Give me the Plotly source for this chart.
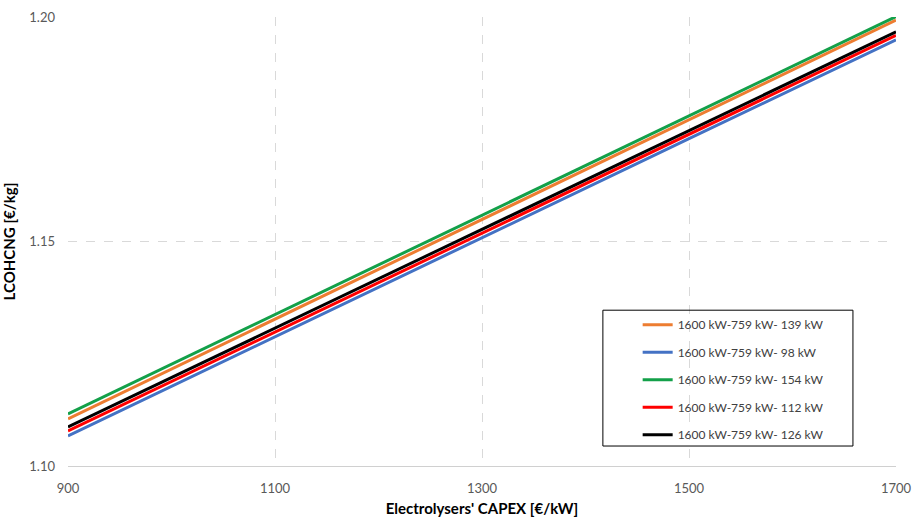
import plotly.graph_objects as go

capex = [900, 1100, 1300, 1500, 1700]
names = ["1600 kW-759 kW- 139 kW", "1600 kW-759 kW- 98 kW", "1600 kW-759 kW- 154 kW",
         "1600 kW-759 kW- 112 kW", "1600 kW-759 kW- 126 kW"]
orange_139 = [1.1105, 1.1327, 1.1549, 1.1771, 1.1993]
blue_98 = [1.1067, 1.1288, 1.1508, 1.1729, 1.1949]
green_154 = [1.1116, 1.1337, 1.1558, 1.1780, 1.2001]
red_112 = [1.1078, 1.1298, 1.1519, 1.1739, 1.1959]
black_126 = [1.1087, 1.1307, 1.1527, 1.1747, 1.1967]
colors = ["#ED7D31", "#4472C4", "#13A049", "#FF0000", "#000000"]
series = [orange_139, blue_98, green_154, red_112, black_126]

x_ticks = [900, 1100, 1300, 1500, 1700]
y_ticks = [1.10, 1.15, 1.20]

fig = go.Figure()
for i, (n, s, c) in enumerate(zip(names, series, colors)):
    fig.add_trace(go.Scatter(x=capex, y=s, mode="lines", name=n, legendgroup=str(i),
                             line=dict(color=c, width=3)))

fig.update_layout(
    width=916, height=519,
    margin=dict(l=68, r=20, t=17, b=53),
    paper_bgcolor="white", plot_bgcolor="white",
    font=dict(family="Lato, Open Sans, sans-serif", color="#595959", size=13),
    showlegend=True,
    legend=dict(x=0.688, y=0.347, xanchor="left", yanchor="top",
                bgcolor="rgba(0,0,0,0)", borderwidth=0,
                font=dict(size=12, color="#404040"),
                tracegroupgap=8.5, itemwidth=30),
    shapes=[dict(type="rect", xref="paper", yref="paper",
                 x0=0.646, x1=0.948, y0=0.0445, y1=0.347,
                 line=dict(color="#000000", width=1), fillcolor="rgba(0,0,0,0)")],
)
fig.update_xaxes(
    range=[900, 1700], tickvals=x_ticks, ticktext=[str(v) for v in x_ticks],
    showgrid=True, gridcolor="#D9D9D9", griddash="dash", gridwidth=1,
    showline=True, linecolor="#D0D0D0", linewidth=1, ticks="", ticklabelstandoff=10,
    zeroline=False, automargin=False,
    title=dict(text="Electrolysers' CAPEX [€/kW]", font=dict(size=15, color="#000000", weight="bold"),
               standoff=8),
)
fig.update_yaxes(
    range=[1.10, 1.20], tickvals=y_ticks, ticktext=[f"{v:.2f}" for v in y_ticks],
    showgrid=True, gridcolor="#D9D9D9", griddash="dash", gridwidth=1,
    showline=False, ticks="", ticklabelstandoff=12, zeroline=False, automargin=False,
    title=dict(text="LCOHCNG [€/kg]", font=dict(size=15, color="#000000", weight="bold"),
               standoff=10),
)

fig.write_html("out.html")
